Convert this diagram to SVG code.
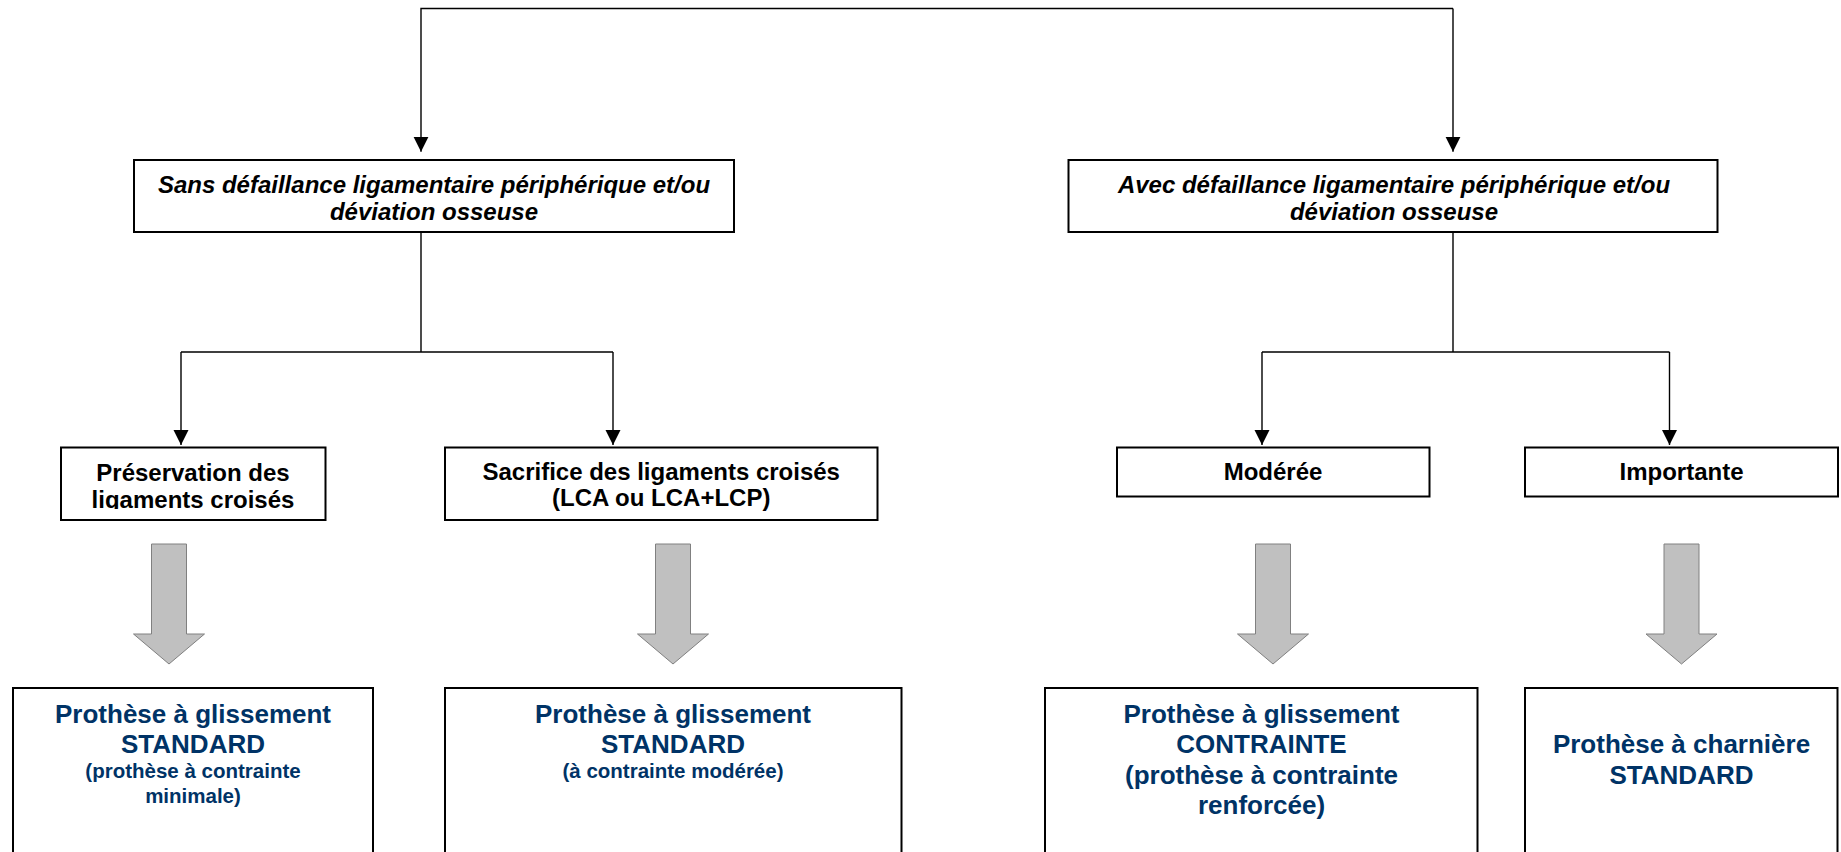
<svg xmlns="http://www.w3.org/2000/svg" width="1841" height="852" viewBox="0 0 1841 852">
<style>
.box{fill:#fff;stroke:#000;stroke-width:2}
.ln{fill:none;stroke:#000;stroke-width:1.4}
.t{font-family:"Liberation Sans",Arial,sans-serif;font-weight:bold;font-size:24px;fill:#000;text-anchor:middle}
.it{font-style:italic}
.b{font-family:"Liberation Sans",Arial,sans-serif;font-weight:bold;fill:#003366;text-anchor:middle}
.bl{font-size:26px}
.bs{font-size:20.5px}
.ga{fill:#c0c0c0;stroke:#808080;stroke-width:1}
</style>
<defs>
<marker id="ah" markerUnits="userSpaceOnUse" markerWidth="15" markerHeight="16" refX="15" refY="7.5" orient="auto" viewBox="0 0 15 15">
<path d="M0,0 L15,7.5 L0,15 z" fill="#000"/>
</marker>
<clipPath id="clipPres"><rect x="60" y="440" width="266" height="69"/></clipPath>
</defs>
<rect width="1841" height="852" fill="#fff"/>
<g id="connectors">
<path class="ln" d="M1453,8.5 L421,8.5 L421,151.7" marker-end="url(#ah)"/>
<path class="ln" d="M1453,8.5 L1453,151.7" marker-end="url(#ah)"/>
<path class="ln" d="M421,232 L421,352 M181,352 L613,352"/>
<path class="ln" d="M181,352 L181,445" marker-end="url(#ah)"/>
<path class="ln" d="M613,352 L613,445" marker-end="url(#ah)"/>
<path class="ln" d="M1453,232 L1453,352 M1262,352 L1669.5,352"/>
<path class="ln" d="M1262,352 L1262,445" marker-end="url(#ah)"/>
<path class="ln" d="M1669.5,352 L1669.5,445" marker-end="url(#ah)"/>
<polygon class="ga" points="151.5,544 186.5,544 186.5,634 204.5,634 169,664 133.5,634 151.5,634"/>
<polygon class="ga" points="655.5,544 690.5,544 690.5,634 708.5,634 673,664 637.5,634 655.5,634"/>
<polygon class="ga" points="1255.5,544 1290.5,544 1290.5,634 1308.5,634 1273,664 1237.5,634 1255.5,634"/>
<polygon class="ga" points="1664,544 1699,544 1699,634 1717,634 1681.5,664 1646,634 1664,634"/>
</g>
<g id="node-sans">
<rect class="box" x="134" y="160" width="600" height="72"/>
<text class="t it" x="434" y="192.5">Sans défaillance ligamentaire périphérique et/ou</text>
<text class="t it" x="434" y="220">déviation osseuse</text>
</g>
<g id="node-avec">
<rect class="box" x="1068.5" y="160" width="649" height="72"/>
<text class="t it" x="1394" y="192.5">Avec défaillance ligamentaire périphérique et/ou</text>
<text class="t it" x="1394" y="220">déviation osseuse</text>
</g>
<g id="node-preservation">
<rect class="box" x="61" y="447.5" width="264.5" height="72.5"/>
<g clip-path="url(#clipPres)">
<text class="t" x="193" y="480.5">Préservation des</text>
<text class="t" x="193" y="507.5">ligaments croisés</text>
</g>
</g>
<g id="node-sacrifice">
<rect class="box" x="445" y="447.5" width="432.5" height="72.5"/>
<text class="t" x="661.2" y="480">Sacrifice des ligaments croisés</text>
<text class="t" x="661.2" y="506">(LCA ou LCA+LCP)</text>
</g>
<g id="node-moderee">
<rect class="box" x="1117" y="447.5" width="312.5" height="49"/>
<text class="t" x="1273" y="480">Modérée</text>
</g>
<g id="node-importante">
<rect class="box" x="1525" y="447.5" width="313" height="49"/>
<text class="t" x="1681.5" y="480">Importante</text>
</g>
<g id="node-res1">
<rect class="box" x="13" y="688" width="360" height="200"/>
<text class="b bl" x="193" y="722.7">Prothèse à glissement</text>
<text class="b bl" x="193" y="753">STANDARD</text>
<text class="b bs" x="193" y="778.3">(prothèse à contrainte</text>
<text class="b bs" x="193" y="803.3">minimale)</text>
</g>
<g id="node-res2">
<rect class="box" x="445" y="688" width="456.5" height="200"/>
<text class="b bl" x="673" y="722.7">Prothèse à glissement</text>
<text class="b bl" x="673" y="753">STANDARD</text>
<text class="b bs" x="673" y="778.3">(à contrainte modérée)</text>
</g>
<g id="node-res3">
<rect class="box" x="1045" y="688" width="432.5" height="200"/>
<text class="b bl" x="1261.5" y="722.7">Prothèse à glissement</text>
<text class="b bl" x="1261.5" y="753">CONTRAINTE</text>
<text class="b bl" x="1261.5" y="784">(prothèse à contrainte</text>
<text class="b bl" x="1261.5" y="814">renforcée)</text>
</g>
<g id="node-res4">
<rect class="box" x="1525" y="688" width="312.5" height="200"/>
<text class="b bl" x="1681.5" y="752.7">Prothèse à charnière</text>
<text class="b bl" x="1681.5" y="784">STANDARD</text>
</g>
</svg>
